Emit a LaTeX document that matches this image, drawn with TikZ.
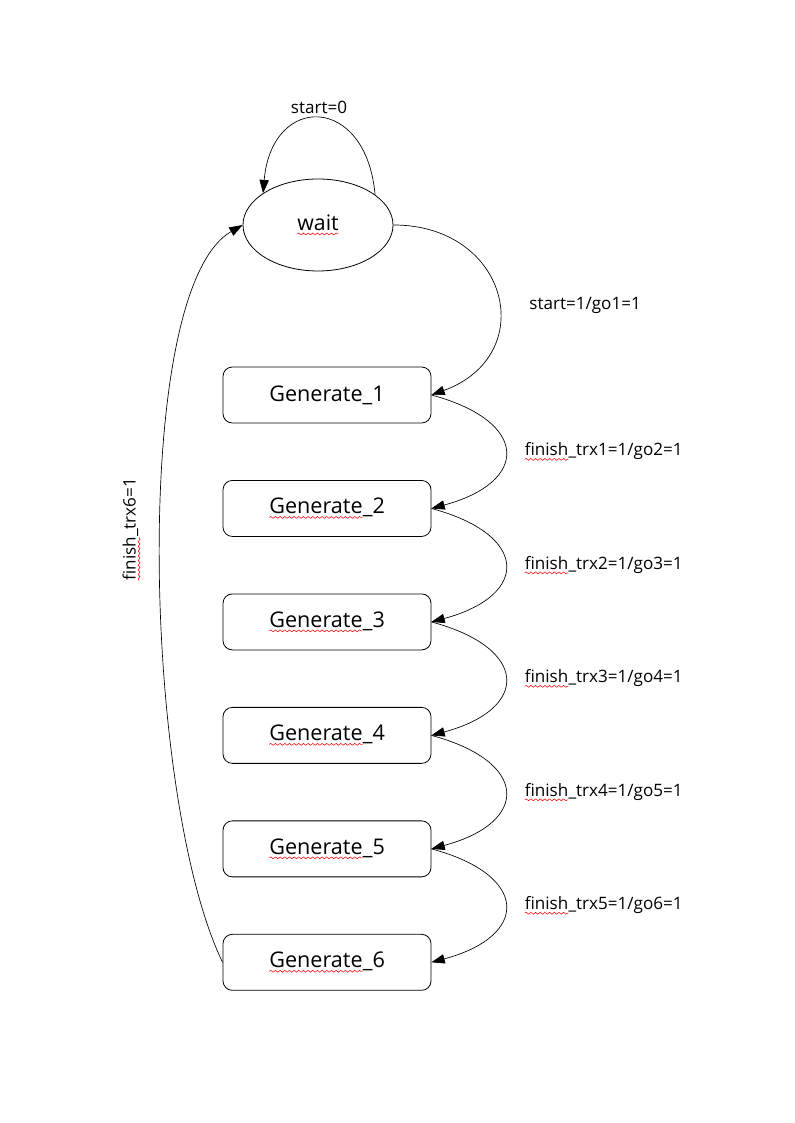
\documentclass[tikz,border=0pt]{standalone}
\usepackage{fontspec}
\setmainfont{Open Sans}
\usetikzlibrary{positioning,shapes.geometric,arrows.meta,decorations.pathmorphing}

% red spell-check wave under a word
\newcommand{\spell}[1]{\tikz[baseline=(sw.base),reset cm,x=1cm,y=1cm]{\node[shape=rectangle,inner sep=0pt,outer sep=0pt,
    minimum width=0pt,minimum height=0pt,draw=none,sharp corners] (sw) {#1};
  \draw[-,red,line width=0.4pt,sharp corners,decorate,decoration={snake,amplitude=0.7pt,segment length=3.5pt}]
    ([yshift=-2.6pt]sw.base west) -- ([yshift=-2.6pt]sw.base east);}}

\begin{document}
\begin{tikzpicture}[x=0.75pt,y=0.75pt,node distance=42.5pt,
    state/.style={draw,rounded corners=7pt,minimum width=156pt,minimum height=42pt,
      line width=0.6pt,font=\fontsize{16.2}{19}\selectfont},
    trans/.style={-{Triangle[length=10pt,width=7pt]},line width=0.5pt},
    lbl/.style={font=\fontsize{12.8}{15}\selectfont}]
    \useasboundingbox (0,0) rectangle (794,1123);

    \node[draw,ellipse,minimum width=112.5pt,minimum height=69pt,line width=0.6pt,
      font=\fontsize{16}{19}\selectfont] (wait) at (318,898) {\spell{wait}};
    \node[state] (g1) at (327,728) {Generate\_1};
    \node[state, below = of g1] (g2) {\spell{Generate}\_2};
    \node[state, below = of g2] (g3) {\spell{Generate}\_3};
    \node[state, below = of g3] (g4) {\spell{Generate}\_4};
    \node[state, below = of g4] (g5) {\spell{Generate}\_5};
    \node[state, below = of g5] (g6) {\spell{Generate}\_6};

    \draw[trans] (wait.28) to[out=95, in=85, looseness=2.3] node[lbl, above] {start=0} (wait.150);
    \draw[trans] (wait.east) to[out=0, in=20, looseness=1.7] node[lbl, right=21pt, yshift=-8pt] {start=1/go1=1} (g1.east);
    \draw[trans] (g1.east) to[out=-15, in=15, looseness=2.3] node[lbl, right=11pt] {\spell{finish}\_trx1=1/go2=1} (g2.east);
    \draw[trans] (g2.east) to[out=-15, in=15, looseness=2.3] node[lbl, right=11pt] {\spell{finish}\_trx2=1/go3=1} (g3.east);
    \draw[trans] (g3.east) to[out=-15, in=15, looseness=2.3] node[lbl, right=11pt] {\spell{finish}\_trx3=1/go4=1} (g4.east);
    \draw[trans] (g4.east) to[out=-15, in=15, looseness=2.3] node[lbl, right=11pt] {\spell{finish}\_trx4=1/go5=1} (g5.east);
    \draw[trans] (g5.east) to[out=-15, in=15, looseness=2.3] node[lbl, right=11pt] {\spell{finish}\_trx5=1/go6=1} (g6.east);
    \draw[trans] (g6.west) .. controls +(-79,162) and +(-113,-65) .. node[lbl, pos=0.53, xshift=-12pt, rotate=90, anchor=south] {\spell{finish}\_trx6=1} (wait.west);
\end{tikzpicture}
\end{document}
